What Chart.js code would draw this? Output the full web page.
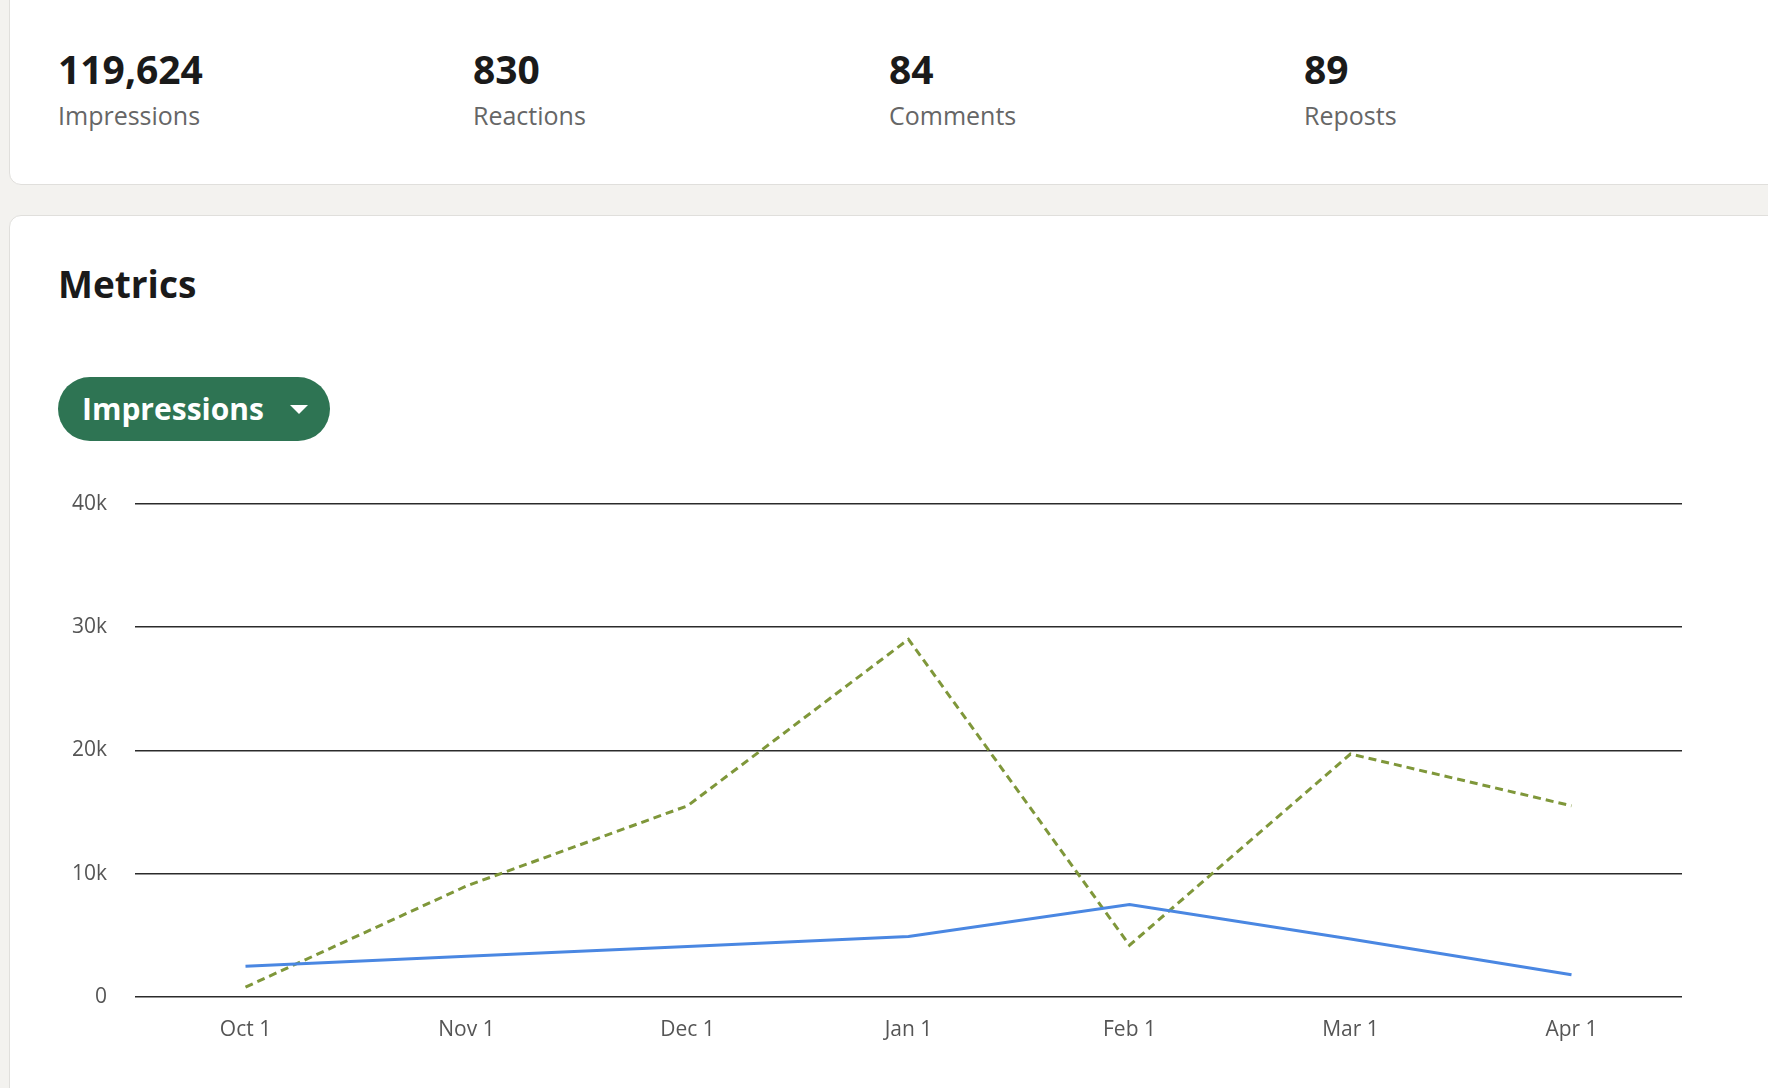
<!DOCTYPE html>
<html lang="en">
<head>
<meta charset="UTF-8">
<title>Metrics</title>
<style>
    body { margin: 0; background: #f3f2ef; font-family: 'Open Sans', 'Noto Sans', sans-serif; width: 1768px; height: 1088px; overflow: hidden; position: relative; }
    .card { position: absolute; left: 9px; right: -12px; background: #fff; border: 1px solid #e0dfdc; border-radius: 12px; }
    .top { top: -12px; height: 195px; }
    .main { top: 215px; height: 900px; }
    .stat { position: absolute; top: 58px; }
    .stat b { display: block; font-size: 39px; color: #1a1a1a; line-height: 44px; }
    .stat span { display: block; font-size: 25px; color: #666; line-height: 34px; margin-top: 7px; }
    h2 { position: absolute; left: 48px; top: 42px; margin: 0; font-size: 37px; color: #1a1a1a; }
    .pill { position: absolute; left: 48px; top: 161px; width: 272px; height: 64px; border-radius: 32px; background: #2e7453; color: #fff; font-weight: bold; font-size: 30px; line-height: 64px; box-sizing: border-box; padding-left: 24px; }
    .pill::after { content: ''; position: absolute; left: 232px; top: 28px; border: 9px solid transparent; border-top-color: #fff; border-bottom: 0; }
    .chartbox { position: absolute; left: 57px; top: 463px; width: 1625px; height: 607px; }
</style>
</head>
<body>
<div class="card top">
    <div class="stat" style="left:48px"><b>119,624</b><span>Impressions</span></div>
    <div class="stat" style="left:463px"><b>830</b><span>Reactions</span></div>
    <div class="stat" style="left:879px"><b>84</b><span>Comments</span></div>
    <div class="stat" style="left:1294px"><b>89</b><span>Reposts</span></div>
</div>
<div class="card main">
    <h2>Metrics</h2>
    <div class="pill">Impressions</div>
</div>
<div class="chartbox"><canvas id="chart"></canvas></div>

<script src="https://cdn.jsdelivr.net/npm/chart.js"></script>
<script>
    const months = ['Oct 1', 'Nov 1', 'Dec 1', 'Jan 1', 'Feb 1', 'Mar 1', 'Apr 1'];
    const currentPeriod = [2500, 3300, 4100, 4900, 7500, 4700, 1800];
    const previousPeriod = [800, 9000, 15500, 29000, 4200, 19700, 15500];
    const yTicks = [0, 10000, 20000, 30000, 40000];

    new Chart(document.getElementById('chart'), {
        type: 'line',
        data: {
            labels: months,
            datasets: [
                { label: 'Current', data: currentPeriod, borderColor: '#4a87e2', borderWidth: 3, pointRadius: 0, tension: 0 },
                { label: 'Previous', data: previousPeriod, borderColor: '#7f973a', borderWidth: 3, borderDash: [8, 5], pointRadius: 0, tension: 0 }
            ]
        },
        options: {
            responsive: true,
            maintainAspectRatio: false,
            animation: false,
            layout: { padding: { top: 12 } },
            plugins: { legend: { display: false }, tooltip: { enabled: false } },
            scales: {
                x: {
                    offset: true,
                    grid: { display: false },
                    border: { display: false },
                    ticks: { color: '#555', font: { size: 21, family: 'Open Sans' }, padding: 12 },
                    afterFit: s => { s.height = 73; }
                },
                y: {
                    min: 0, max: 40000,
                    afterBuildTicks: s => { s.ticks = yTicks.map(v => ({ value: v })); },
                    grid: { color: '#2b2b2b', lineWidth: 1.5, drawTicks: false },
                    border: { display: false },
                    ticks: { color: '#555', font: { size: 21, family: 'Open Sans' }, padding: 28,
                        callback: v => v === 0 ? '0' : (v / 1000) + 'k' },
                    afterFit: s => { s.width = 78; }
                }
            }
        }
    });
</script>
</body>
</html>
